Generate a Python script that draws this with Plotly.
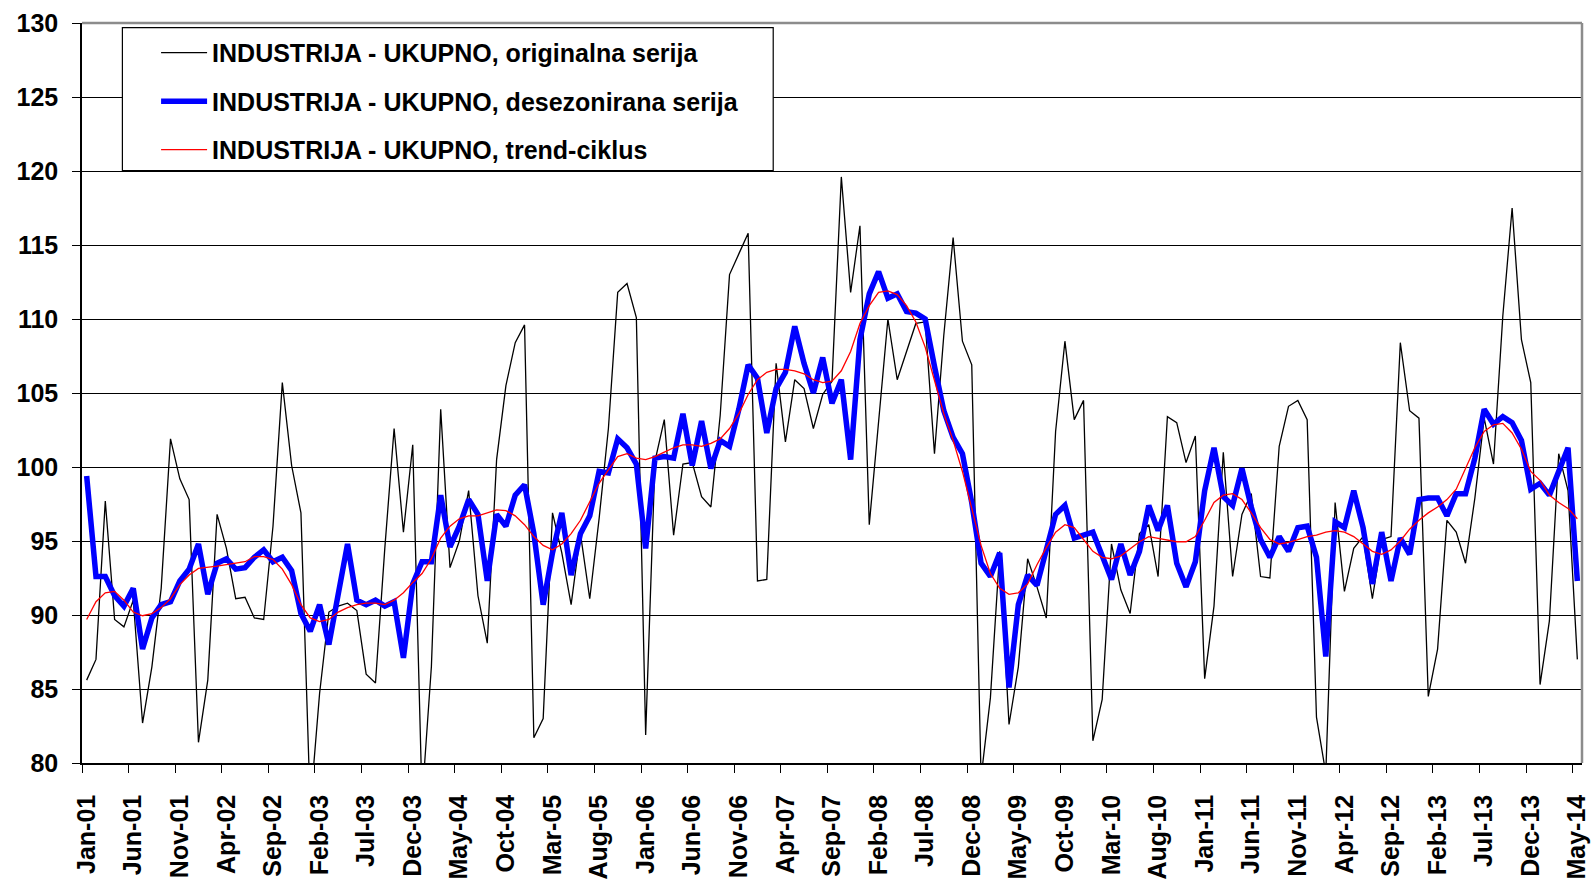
import plotly.graph_objects as go

MONTH_NAMES = ["Jan", "Feb", "Mar", "Apr", "May", "Jun",
               "Jul", "Aug", "Sep", "Oct", "Nov", "Dec"]
MONTHS = [f"{m}-{y:02d}" for y in range(1, 15) for m in MONTH_NAMES][:161]

TICK_LABELS = ["Jan-01", "Jun-01", "Nov-01", "Apr-02", "Sep-02", "Feb-03", "Jul-03",
               "Dec-03", "May-04", "Oct-04", "Mar-05", "Aug-05", "Jan-06", "Jun-06",
               "Nov-06", "Apr-07", "Sep-07", "Feb-08", "Jul-08", "Dec-08", "May-09",
               "Oct-09", "Mar-10", "Aug-10", "Jan-11", "Jun-11", "Nov-11", "Apr-12",
               "Sep-12", "Feb-13", "Jul-13", "Dec-13", "May-14"]

ORIGINAL = [
    85.6, 87.0, 97.7, 89.7, 89.2, 91.0, 82.7, 86.5, 91.8, 101.9, 99.2, 97.8,
    81.4, 85.6, 96.8, 94.5, 91.1, 91.2, 89.8, 89.7, 96.0, 105.7, 100.1, 96.9,
    77.0, 84.7, 90.2, 90.6, 90.8, 90.3, 86.0, 85.4, 94.5, 102.6, 95.6, 101.5,
    77.5, 86.5, 103.9, 93.2, 95.0, 98.4, 91.3, 88.1, 100.5, 105.5, 108.4, 109.6,
    81.7, 83.0, 96.9, 94.2, 90.7, 95.5, 91.1, 96.5, 102.6, 111.8, 112.4, 110.1,
    81.9, 100.4, 103.2, 95.4, 100.2, 100.3, 98.0, 97.3, 103.5, 113.0, 114.4, 115.8,
    92.3, 92.4, 107.0, 101.7, 105.9, 105.3, 102.6, 104.9, 105.8, 119.6, 111.8, 116.3,
    96.1, 102.8, 110.0, 105.9, 107.8, 109.7, 109.8, 100.9, 108.9, 115.5, 108.5, 106.9,
    79.0, 84.4, 94.3, 82.6, 86.5, 93.8, 91.9, 89.8, 102.4, 108.5, 103.2, 104.5,
    81.5, 84.3, 94.8, 91.7, 90.1, 95.5, 96.1, 92.6, 103.4, 103.0, 100.3, 102.1,
    85.7, 90.6, 101.0, 92.6, 96.8, 98.2, 92.6, 92.5, 101.4, 104.1, 104.5, 103.2,
    83.1, 79.3, 97.6, 91.6, 94.5, 95.3, 91.1, 95.1, 95.3, 108.4, 103.8, 103.3,
    84.5, 87.7, 96.4, 95.6, 93.5, 97.9, 103.3, 100.2, 110.2, 117.5, 108.6, 105.7,
    85.3, 89.6, 100.9, 98.4, 87.0,
]

SEASONALLY_ADJUSTED = [
    99.4, 92.6, 92.6, 91.3, 90.6, 91.8, 87.7, 89.8, 90.7, 90.9, 92.3, 93.1,
    94.8, 91.4, 93.5, 93.8, 93.1, 93.2, 93.9, 94.4, 93.6, 93.9, 93.0, 90.1,
    88.9, 90.7, 88.0, 91.4, 94.8, 91.0, 90.7, 91.0, 90.6, 90.9, 87.1, 92.1,
    93.6, 93.6, 98.1, 94.6, 96.0, 97.8, 96.8, 92.3, 96.8, 96.0, 98.1, 98.8,
    95.5, 90.7, 94.2, 96.9, 92.7, 95.5, 96.7, 99.7, 99.6, 101.9, 101.3, 100.2,
    94.5, 100.6, 100.7, 100.6, 103.6, 100.1, 103.1, 99.9, 101.8, 101.4, 103.9, 106.9,
    106.0, 102.3, 105.3, 106.4, 109.5, 107.0, 105.0, 107.4, 104.3, 105.9, 100.5, 108.6,
    111.7, 113.2, 111.4, 111.7, 110.5, 110.4, 110.0, 106.8, 103.8, 102.0, 100.9, 97.6,
    93.5, 92.6, 94.2, 85.1, 90.7, 92.7, 92.0, 94.4, 96.8, 97.4, 95.2, 95.4,
    95.6, 94.0, 92.4, 94.8, 92.7, 94.3, 97.4, 95.7, 97.4, 93.5, 91.9, 93.6,
    98.4, 101.3, 98.0, 97.4, 99.9, 97.3, 95.1, 93.9, 95.3, 94.3, 95.9, 96.0,
    93.9, 87.2, 96.3, 95.9, 98.4, 95.9, 92.1, 95.6, 92.3, 95.2, 94.1, 97.8,
    97.9, 97.9, 96.7, 98.2, 98.2, 100.6, 103.9, 102.9, 103.4, 103.0, 101.8, 98.5,
    98.9, 98.1, 99.7, 101.3, 92.3,
]

TREND_CYCLE = [
    89.7, 90.9, 91.5, 91.6, 91.0, 90.2, 89.95, 90.1, 90.5, 91.1, 92.05, 92.7,
    93.15, 93.2, 93.3, 93.4, 93.5, 93.6, 93.95, 93.95, 93.75, 93.1, 92.05, 90.7,
    89.8, 89.55, 89.7, 90.2, 90.5, 90.7, 90.8, 90.8, 90.7, 91.0, 91.5, 92.2,
    92.8, 93.8, 95.2, 96.0, 96.5, 96.7, 96.7, 96.9, 97.1, 97.05, 96.7, 96.1,
    95.3, 94.7, 94.4, 94.8, 95.5, 96.4, 97.6, 98.9, 99.8, 100.7, 100.9, 100.6,
    100.5, 100.7, 101.0, 101.3, 101.5, 101.5, 101.4, 101.6, 101.9, 102.6, 103.6, 104.9,
    105.9, 106.4, 106.6, 106.6, 106.5, 106.3, 105.9, 105.7, 105.8, 106.5, 107.8, 109.7,
    110.9, 111.8, 111.9, 111.65, 110.9, 109.8, 108.1, 105.9, 103.6, 101.8, 99.7, 97.2,
    94.7, 92.8, 91.8, 91.4, 91.5, 92.1, 93.4, 94.55, 95.6, 96.1, 95.9, 95.1,
    94.3, 93.9, 93.8, 94.0, 94.5, 94.95, 95.3, 95.2, 95.1, 94.95, 94.95, 95.3,
    96.4, 97.6, 98.1, 98.2, 97.8, 96.9, 95.9, 95.1, 94.8, 94.9, 95.1, 95.3,
    95.4, 95.6, 95.7, 95.6, 95.3, 94.8, 94.3, 94.1, 94.4, 95.0, 95.8, 96.4,
    96.9, 97.3, 97.8, 98.5, 99.9, 101.3, 102.4, 102.85, 102.95, 102.3, 101.2, 99.7,
    99.1, 98.1, 97.6, 97.2, 96.5,
]

SERIES_NAMES = ["INDUSTRIJA - UKUPNO, originalna serija",
                "INDUSTRIJA - UKUPNO, desezonirana serija",
                "INDUSTRIJA - UKUPNO, trend-ciklus"]

x = list(range(len(MONTHS)))
tickvals = [MONTHS.index(t) for t in TICK_LABELS]
boundaries = [v - 0.5 for v in tickvals]

FONT = "Liberation Sans, Arial, sans-serif"

fig = go.Figure()
fig.add_trace(go.Scatter(
    x=x, y=ORIGINAL, mode="lines", name=SERIES_NAMES[0], legendgroup="a",
    line=dict(color="#000000", width=1.3), customdata=MONTHS,
    hovertemplate="%{customdata}: %{y}<extra></extra>"))
fig.add_trace(go.Scatter(
    x=x, y=SEASONALLY_ADJUSTED, mode="lines", name=SERIES_NAMES[1], legendgroup="b",
    line=dict(color="#0000FF", width=5.5), customdata=MONTHS,
    hovertemplate="%{customdata}: %{y}<extra></extra>"))
fig.add_trace(go.Scatter(
    x=x, y=TREND_CYCLE, mode="lines", name=SERIES_NAMES[2], legendgroup="c",
    line=dict(color="#FF0000", width=1.3), customdata=MONTHS,
    hovertemplate="%{customdata}: %{y}<extra></extra>"))

L, T = 81.6, 22.7
PW, PH = 1500.4, 740.0
W, H = 1594, 883

def px_to_paper_x(px):
    return (px - L) / PW

def px_to_paper_y(py):
    return 1 - (py - T) / PH

fig.update_layout(
    width=W, height=H,
    margin=dict(l=L, r=W - L - PW, t=T, b=H - T - PH, pad=0),
    plot_bgcolor="white", paper_bgcolor="white",
    font=dict(family=FONT, size=25, color="black", weight="bold"),
    showlegend=True,
    legend=dict(
        x=px_to_paper_x(155.7), y=px_to_paper_y(29.6), xanchor="left", yanchor="top",
        bgcolor="rgba(0,0,0,0)", borderwidth=0, itemwidth=46,
        traceorder="grouped", tracegroupgap=13,
        font=dict(family=FONT, size=25, color="black", weight="bold")),
    xaxis=dict(
        range=[-0.5, len(MONTHS) - 0.5], tickmode="array", tickvals=tickvals,
        ticktext=TICK_LABELS, tickangle=-90, ticks="outside", ticklen=8,
        tickcolor="rgba(0,0,0,0)", ticklabelstandoff=12, automargin=False,
        showgrid=False, zeroline=False, showline=True, linecolor="black", linewidth=1.5,
        minor=dict(tickmode="array", tickvals=boundaries, ticks="outside", ticklen=8,
                   tickcolor="black", tickwidth=1.3, showgrid=False),
        tickfont=dict(family=FONT, size=25, color="black", weight="bold")),
    yaxis=dict(
        range=[80, 130], tickmode="linear", tick0=80, dtick=5,
        ticks="outside", ticklen=8, tickcolor="black", tickwidth=1.3,
        ticklabelstandoff=9, automargin=False,
        showgrid=True, gridcolor="black", gridwidth=1.2, zeroline=False,
        showline=True, linecolor="black", linewidth=1.5,
        tickfont=dict(family=FONT, size=25, color="black", weight="bold")),
    shapes=[
        dict(type="line", xref="paper", yref="paper", x0=0, x1=1, y0=1, y1=1,
             line=dict(color="#8c8c8c", width=2.5), layer="above"),
        dict(type="line", xref="paper", yref="paper", x0=1, x1=1, y0=0, y1=1,
             line=dict(color="#8c8c8c", width=2.5), layer="above"),
        dict(type="rect", xref="paper", yref="paper",
             x0=px_to_paper_x(122), x1=px_to_paper_x(773),
             y0=px_to_paper_y(170.2), y1=px_to_paper_y(27.4),
             fillcolor="white", line=dict(color="black", width=1.2), layer="above"),
    ],
)

fig.write_html(
    "out.html",
    config={"displayModeBar": False},
    post_script="document.body.style.margin='0';document.body.style.overflow='hidden';",
)
